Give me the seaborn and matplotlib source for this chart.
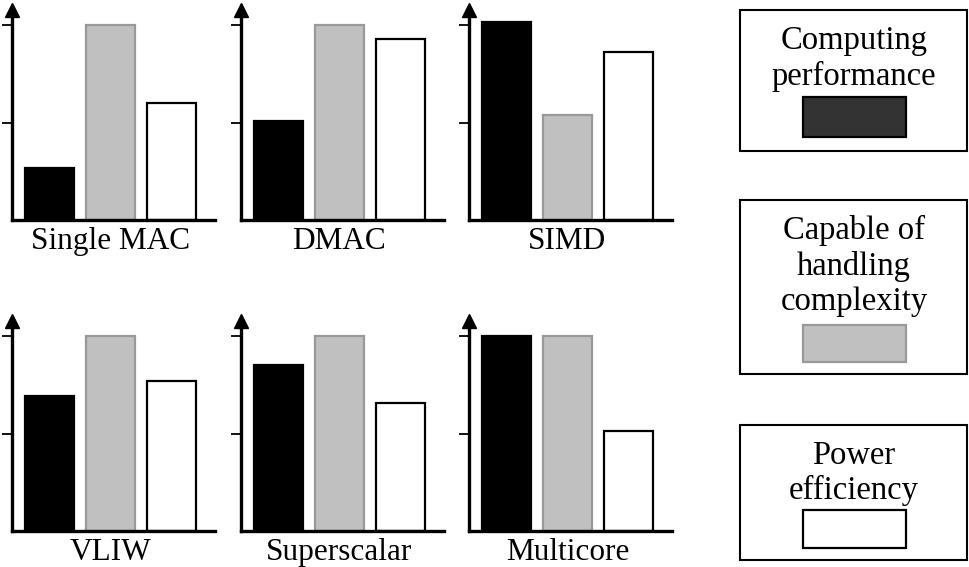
import pandas as pd
import matplotlib
matplotlib.use('Agg')
import matplotlib.pyplot as plt
import seaborn as sns
from matplotlib.patches import Rectangle

# Data (relative scores, tick 1 and tick 2)
architectures = ['Single MAC', 'DMAC', 'SIMD', 'VLIW', 'Superscalar', 'Multicore']
metrics = ['Computing performance', 'Capable of handling complexity', 'Power efficiency']
computing = [0.53, 1.02, 2.03, 1.38, 1.70, 2.0]
complexity = [2.0, 2.0, 1.08, 2.0, 2.0, 2.0]
power = [1.20, 1.86, 1.72, 1.54, 1.31, 1.03]
legend_labels = ['Computing\nperformance', 'Capable of\nhandling\ncomplexity', 'Power\nefficiency']

bar_colors = ['#000000', '#c0c0c0', '#ffffff']
edge_colors = ['#000000', '#999999', '#000000']
swatch_colors = ['#333333', '#c0c0c0', '#ffffff']

sns.set_style('white')
plt.rcParams['font.family'] = ['Liberation Serif', 'DejaVu Serif']
plt.rcParams['text.color'] = 'black'

W, H = 969, 567
fig = plt.figure(figsize=(W / 100, H / 100), dpi=100)


def px_axes(left, top, right, bottom):
    return fig.add_axes([left / W, 1 - bottom / H, (right - left) / W, (bottom - top) / H])


panel_left = [12, 241, 469]
panel_base = [220, 531]
unit = 97.5
ymax = 2.15

for i, arch in enumerate(architectures):
    row, col = divmod(i, 3)
    left = panel_left[col]
    bottom = panel_base[row]
    ax = px_axes(left, bottom - ymax * unit, left + 203, bottom)

    df = pd.DataFrame({'metric': metrics,
                       'value': [computing[i], complexity[i], power[i]]})
    sns.barplot(data=df, x='metric', y='value', hue='metric', palette=bar_colors,
                saturation=1, width=0.8, legend=False, ax=ax)
    for patch, ec in zip(ax.patches, edge_colors):
        patch.set_edgecolor(ec)
        patch.set_linewidth(1.6)

    ax.set_xlim(-0.62, 2.72)
    ax.set_ylim(0, ymax)
    sns.despine(ax=ax)
    for side in ['left', 'bottom']:
        ax.spines[side].set_linewidth(2.4)
        ax.spines[side].set_color('black')
    ax.set_xticks([])
    ax.set_yticks([1, 2])
    ax.set_yticklabels([])
    ax.tick_params(axis='y', direction='out', length=7, width=1.3, color='black', left=True)
    ax.set_xlabel('')
    ax.set_ylabel('')

    # arrow head on the y axis
    ax.plot([0], [1.0], marker='^', color='black', markersize=10,
            transform=ax.transAxes, clip_on=False)

    ax.annotate(arch, xy=(1, 0), xycoords=('data', 'axes fraction'),
                xytext=(0, -29 * 0.72), textcoords='offset points',
                ha='center', va='baseline', fontsize=22.5)

# Legend boxes on the right
lax = fig.add_axes([0, 0, 1, 1])
lax.set_xlim(0, W)
lax.set_ylim(H, 0)
lax.axis('off')

boxes = [(10, 151), (200, 374), (425, 560)]
first_baselines = [49, 239, 464]
swatches = [(97, 137), (325, 362), (510, 548)]

for k, label in enumerate(legend_labels):
    top, bot = boxes[k]
    lax.add_patch(Rectangle((740, top), 227, bot - top, facecolor='white',
                            edgecolor='black', lw=1.5))
    for j, line in enumerate(label.split('\n')):
        lax.text(854, first_baselines[k] + 35.5 * j, line, ha='center', va='baseline',
                 fontsize=23.5)
    s_top, s_bot = swatches[k]
    lax.add_patch(Rectangle((803, s_top), 103, s_bot - s_top, facecolor=swatch_colors[k],
                            edgecolor=edge_colors[k], lw=1.6))

fig.savefig('out.png', dpi=100)
